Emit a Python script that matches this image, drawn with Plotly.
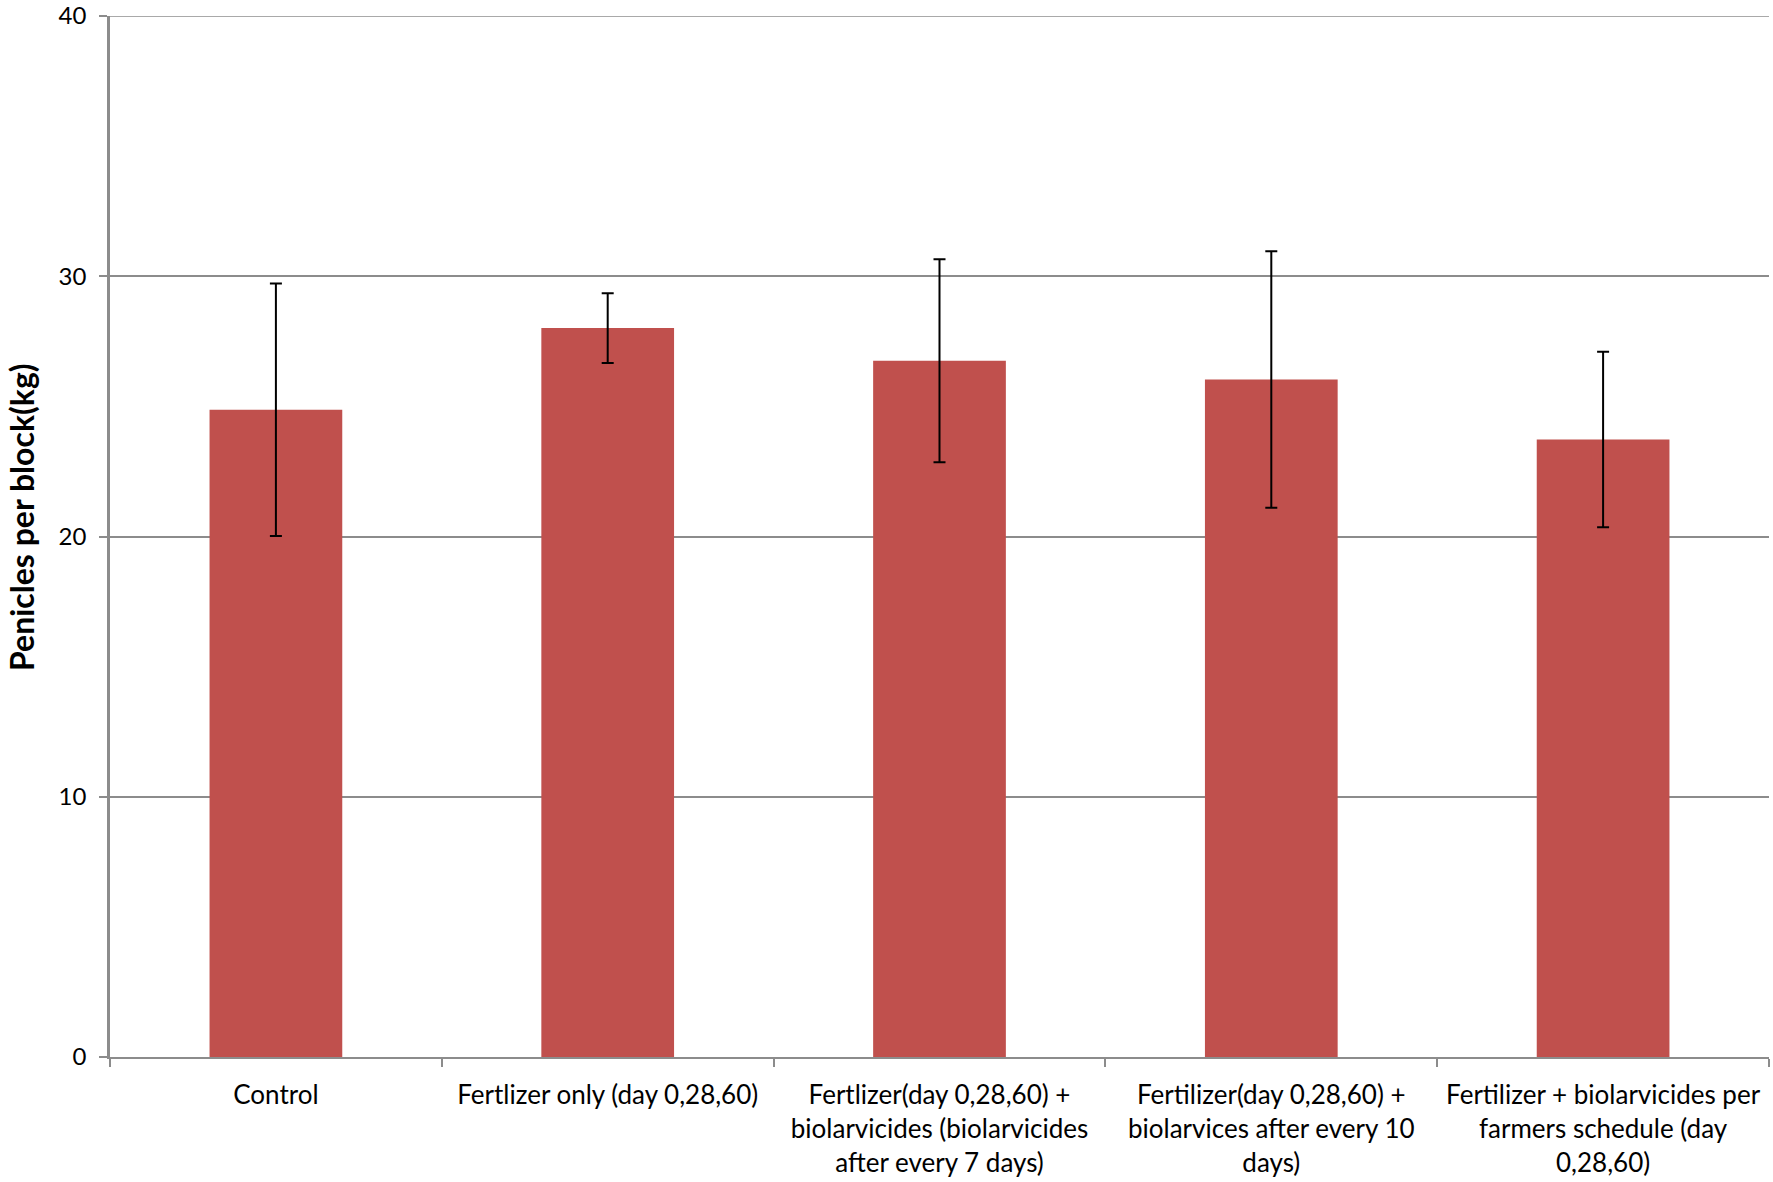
import plotly.graph_objects as go

categories = [
    "Control",
    "Fertlizer only (day 0,28,60)",
    "Fertlizer(day 0,28,60) +<br>biolarvicides (biolarvicides<br>after every 7 days)",
    "Fertilizer(day 0,28,60) +<br>biolarvices after every 10<br>days)",
    "Fertilizer + biolarvicides per<br>farmers schedule (day<br>0,28,60)",
]
means = [24.87, 28.01, 26.75, 26.03, 23.73]
errors = [4.85, 1.34, 3.90, 4.93, 3.37]
y_ticks = [0, 10, 20, 30, 40]
y_title = "Penicles per block(kg)"

FONT = "Lato, 'Open Sans', sans-serif"

fig = go.Figure(
    go.Bar(
        x=categories,
        y=means,
        width=0.4,
        marker=dict(color="#C0504D", line=dict(width=0)),
        error_y=dict(type="data", array=errors, visible=True,
                     color="black", thickness=2, width=6),
    )
)

fig.update_layout(
    width=1773, height=1182,
    margin=dict(l=110, r=4, t=16, b=125),
    paper_bgcolor="white", plot_bgcolor="white",
    showlegend=False,
    font=dict(family=FONT, size=26, color="black"),
    shapes=[dict(type="line", xref="paper", yref="y", x0=0, x1=1, y0=y_ticks[-1], y1=y_ticks[-1],
                 line=dict(color="#8c8c8c", width=1.5))],
    annotations=[dict(text="<b>" + y_title + "</b>", xref="paper", yref="paper",
                      x=-0.0535, y=0.519, xanchor="center", yanchor="middle",
                      textangle=-90, showarrow=False,
                      font=dict(family=FONT, size=32, color="black"))],
)

fig.update_xaxes(
    type="category",
    automargin=False,
    showline=True, linecolor="#8c8c8c", linewidth=2,
    ticks="outside", tickson="boundaries", ticklen=8, tickcolor="#8c8c8c", tickwidth=1.5,
    showgrid=False,
    tickfont=dict(family=FONT, size=26, color="black"),
    tickangle=0,
    ticklabelstandoff=14,
)
fig.update_yaxes(
    automargin=False,
    range=[0, 40],
    tickvals=y_ticks,
    showline=True, linecolor="#8c8c8c", linewidth=2.5,
    ticks="outside", ticklen=8, tickcolor="#8c8c8c", tickwidth=1.5,
    showgrid=True, gridcolor="#8c8c8c", gridwidth=1.5,
    zeroline=False,
    tickfont=dict(family=FONT, size=24, color="black"),
    ticklabelstandoff=8,
    ticklabeloverflow="allow",
)

fig.write_html(
    "out.html",
    config={"displayModeBar": False},
    post_script="document.body.style.margin='0';document.body.style.padding='0';",
)
